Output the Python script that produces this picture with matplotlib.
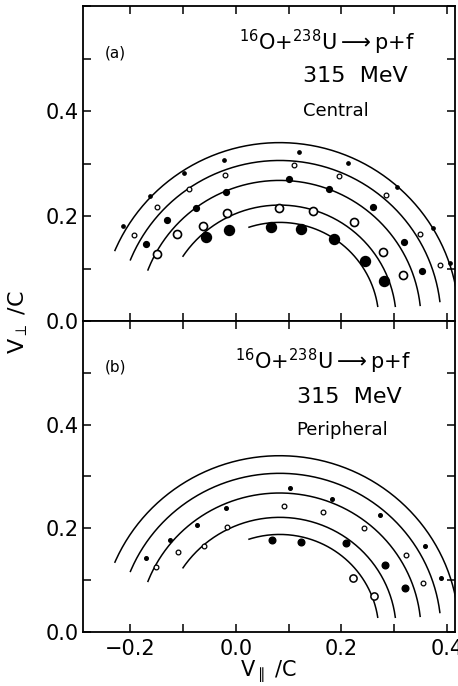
import numpy as np
import matplotlib
matplotlib.use("Agg")
import matplotlib.pyplot as plt
from matplotlib.ticker import MultipleLocator

# circles (V_par centre, radius, start / end angle in degrees)
arc_center = 0.083
arc_radii = [0.188, 0.221, 0.268, 0.306, 0.340]
arc_start = [8.6, 7.3, 6.4, 7.0, 4.0]
arc_end = [108.0, 146.0, 158.7, 157.6, 156.7]

# (a) central
a_small_filled_x = [-0.214, -0.163, -0.099, -0.023, 0.120, 0.212, 0.305, 0.374, 0.405]
a_small_filled_y = [0.182, 0.238, 0.282, 0.306, 0.322, 0.302, 0.256, 0.177, 0.111]
a_small_open_x = [-0.193, -0.149, -0.088, -0.020, 0.111, 0.196, 0.285, 0.349, 0.387]
a_small_open_y = [0.164, 0.218, 0.251, 0.279, 0.298, 0.277, 0.240, 0.165, 0.106]
a_mid_filled_x = [-0.171, -0.131, -0.076, -0.018, 0.101, 0.177, 0.259, 0.319, 0.353]
a_mid_filled_y = [0.147, 0.192, 0.216, 0.246, 0.271, 0.251, 0.218, 0.151, 0.096]
a_mid_open_x = [-0.150, -0.112, -0.063, -0.016, 0.081, 0.147, 0.223, 0.278, 0.316]
a_mid_open_y = [0.128, 0.165, 0.181, 0.205, 0.216, 0.210, 0.188, 0.131, 0.087]
a_big_filled_x = [-0.057, -0.013, 0.067, 0.123, 0.186, 0.244, 0.281]
a_big_filled_y = [0.160, 0.174, 0.179, 0.176, 0.156, 0.115, 0.076]

# (b) peripheral
b_small_filled_x = [-0.171, -0.124, -0.074, -0.019, 0.103, 0.182, 0.273, 0.358, 0.389]
b_small_filled_y = [0.143, 0.177, 0.206, 0.239, 0.277, 0.256, 0.226, 0.165, 0.103]
b_small_open_x = [-0.151, -0.109, -0.060, -0.016, 0.091, 0.165, 0.243, 0.322, 0.354]
b_small_open_y = [0.125, 0.155, 0.166, 0.202, 0.243, 0.232, 0.201, 0.148, 0.094]
b_mid_filled_x = [0.068, 0.124, 0.208, 0.283, 0.321]
b_mid_filled_y = [0.177, 0.173, 0.171, 0.129, 0.085]
b_mid_open_x = [0.222, 0.262]
b_mid_open_y = [0.103, 0.069]

plt.rcParams['font.family'] = 'DejaVu Sans'
plt.rcParams['mathtext.fontset'] = 'dejavusans'

fig = plt.figure(figsize=(4.58, 6.86), dpi=100)
ax1 = fig.add_axes([0.181, 0.532, 0.812, 0.459])
ax2 = fig.add_axes([0.181, 0.079, 0.812, 0.453])


def draw_arcs(ax):
    for r, t0, t1 in zip(arc_radii, arc_start, arc_end):
        t = np.radians(np.linspace(t0, t1, 200))
        ax.plot(arc_center + r * np.cos(t), r * np.sin(t), color='black', lw=1.1)


def style(ax, show_x):
    ax.set_xlim(-0.29, 0.415)
    ax.set_ylim(0.0, 0.6)
    ax.xaxis.set_major_locator(MultipleLocator(0.2))
    ax.xaxis.set_minor_locator(MultipleLocator(0.1))
    ax.yaxis.set_major_locator(MultipleLocator(0.2))
    ax.yaxis.set_minor_locator(MultipleLocator(0.1))
    ax.set_yticks([0.0, 0.2, 0.4])
    ax.set_yticklabels(['0.0', '0.2', '0.4'])
    ax.tick_params(which='both', direction='in', top=True, right=True,
                   length=6, width=1.1, labelsize=15)
    ax.tick_params(axis='y', pad=3)
    ax.tick_params(axis='x', pad=5, labelbottom=show_x)
    for s in ax.spines.values():
        s.set_linewidth(1.3)


def pts(ax, x, y, ms, filled, mew=1.0):
    ax.plot(x, y, 'o', ms=ms, color='black',
            mfc='black' if filled else 'white', mew=mew, linestyle='none')


draw_arcs(ax1)
pts(ax1, a_small_filled_x, a_small_filled_y, 2.4, True)
pts(ax1, a_small_open_x, a_small_open_y, 3.4, False, 0.9)
pts(ax1, a_mid_filled_x, a_mid_filled_y, 4.2, True)
pts(ax1, a_mid_open_x, a_mid_open_y, 5.8, False, 1.2)
pts(ax1, a_big_filled_x, a_big_filled_y, 7.2, True)
style(ax1, False)

draw_arcs(ax2)
pts(ax2, b_small_filled_x, b_small_filled_y, 2.6, True)
pts(ax2, b_small_open_x, b_small_open_y, 3.4, False, 0.9)
pts(ax2, b_mid_filled_x, b_mid_filled_y, 4.8, True)
pts(ax2, b_mid_open_x, b_mid_open_y, 5.2, False, 1.1)
style(ax2, True)

reaction = r'$^{16}$O+$^{238}$U$\longrightarrow$p+f'
for ax, tag, kind, yr, ye, yk, xl, xm in [
        (ax1, '(a)', 'Central', 0.886, 0.779, 0.667, 0.419, 0.591),
        (ax2, '(b)', 'Peripheral', 0.871, 0.754, 0.650, 0.409, 0.575)]:
    ax.text(0.06, 0.852, tag, transform=ax.transAxes, fontsize=11,
            ha='left', va='center')
    ax.text(xl, yr, reaction, transform=ax.transAxes, fontsize=15,
            ha='left', va='center')
    ax.text(xm, ye, '315  MeV', transform=ax.transAxes, fontsize=16,
            ha='left', va='center')
    ax.text(xm, yk, kind, transform=ax.transAxes, fontsize=13,
            ha='left', va='center')

ax2.set_xlabel(r'V$_{\parallel}$ /C', fontsize=15, labelpad=0)
fig.text(0.04, 0.53, r'V$_{\perp}$ /C', rotation=90, fontsize=16,
         ha='center', va='center')

fig.savefig("out.png", dpi=100)
